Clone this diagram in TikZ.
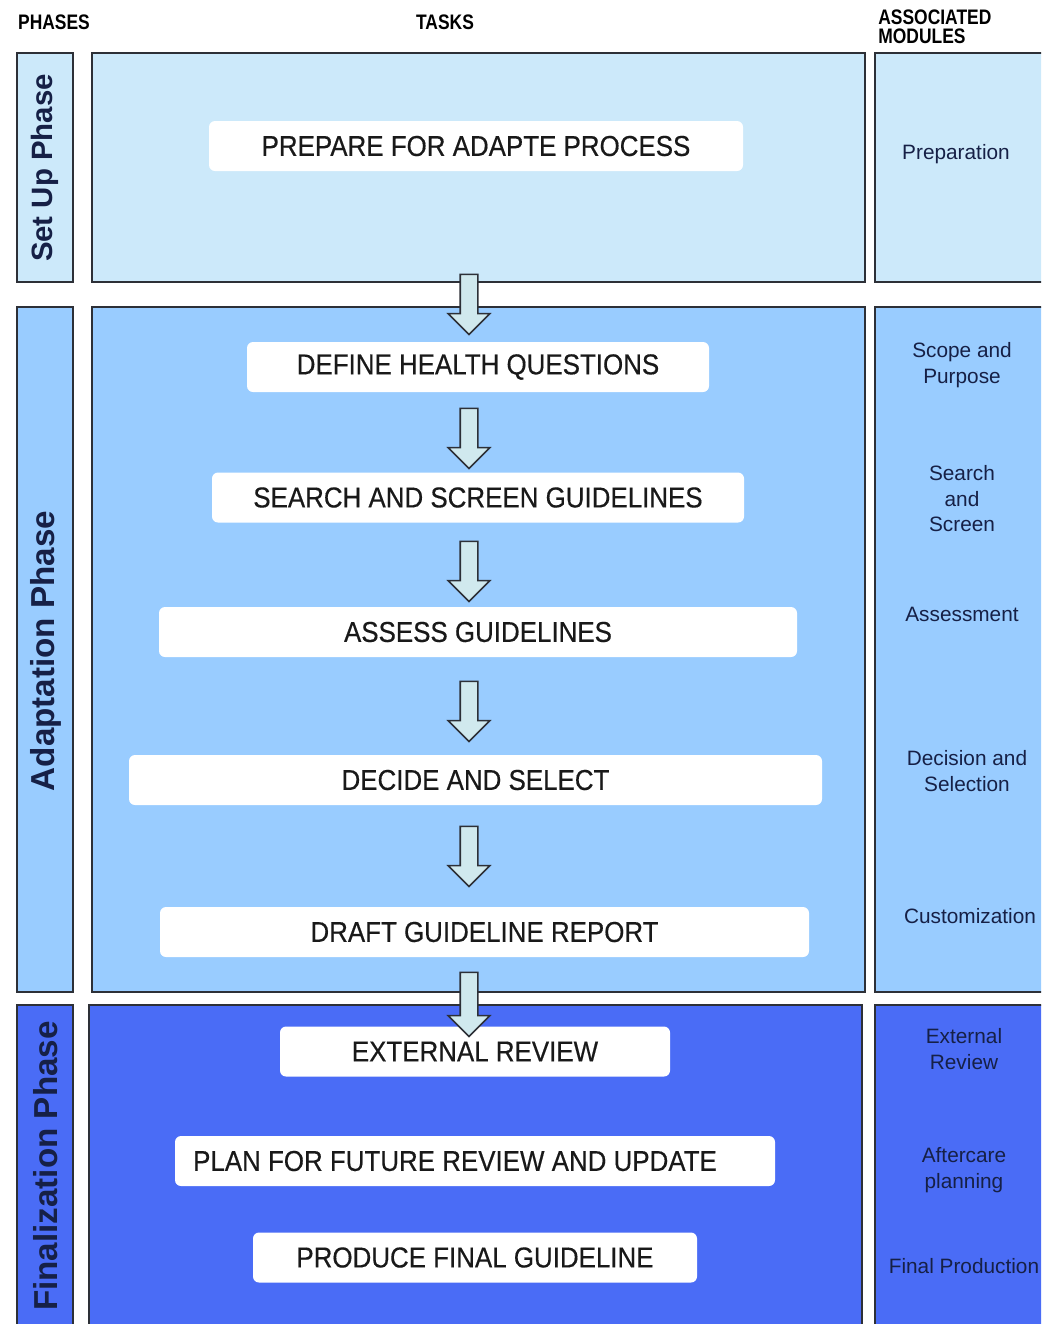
\documentclass[tikz,border=0pt]{standalone}
\usepackage{fontspec}
\setmainfont{Liberation Sans}
\newfontfamily\taskfont[FakeStretch=0.9, FakeBold=0.4]{Liberation Sans}
\newfontfamily\headfont[FakeStretch=0.83]{Liberation Sans}
\usetikzlibrary{shapes,arrows}
\definecolor{setupblue}{RGB}{204,233,250}
\definecolor{adaptblue}{RGB}{153,204,255}
\definecolor{finalblue}{RGB}{74,108,246}
\definecolor{arrowfill}{RGB}{208,233,238}
\definecolor{edgegray}{RGB}{45,48,55}
\definecolor{labelnavy}{RGB}{22,32,70}

\begin{document}
\begin{tikzpicture}[x=0.5pt, y=-0.5pt]
\tikzstyle{band}=[draw=edgegray, line width=1pt]
\tikzstyle{taskbox}=[rectangle, rounded corners=3pt, fill=white, minimum height=25pt, inner sep=0pt, font=\taskfont\fontsize{14.4}{16}\selectfont, text=black!90]
\tikzstyle{phaselabel}=[rotate=90, font=\bfseries\fontsize{16.6}{18}\selectfont, text=labelnavy]
\tikzstyle{module}=[align=center, font=\fontsize{10.4}{12.75}\selectfont, text=labelnavy]
\tikzstyle{header}=[font=\headfont\bfseries\fontsize{10.5}{9.5}\selectfont, align=left, inner sep=0pt]
\tikzstyle{downarrow}=[single arrow, draw=edgegray, fill=arrowfill, line width=0.8pt, rotate=-90, minimum height=30pt, inner sep=4pt, single arrow head extend=6pt]

\useasboundingbox (0,0) rectangle (1041,1324);
\clip (0,0) rectangle (1041,1324);
\fill[white] (0,0) rectangle (1041,1324);

\node[header] (H0) at (54,22) {PHASES};
\node[header] (H1) at (445,22) {TASKS};
\node[header, anchor=west] (H2) at (878,27) {ASSOCIATED\\MODULES};

\draw[band, fill=setupblue] (17,53) rectangle (73,282);
\draw[band, fill=setupblue] (92,53) rectangle (865,282);
\draw[band, fill=setupblue] (875,53) rectangle (1060,282);
\draw[band, fill=adaptblue] (17,307) rectangle (73,992);
\draw[band, fill=adaptblue] (92,307) rectangle (865,992);
\draw[band, fill=adaptblue] (875,307) rectangle (1060,992);
\draw[band, fill=finalblue] (17,1005) rectangle (73,1340);
\draw[band, fill=finalblue] (89,1005) rectangle (862,1340);
\draw[band, fill=finalblue] (875,1005) rectangle (1060,1340);

\node[phaselabel, font=\bfseries\fontsize{14.7}{18}\selectfont] (P0) at (45,168) {Set Up Phase};
\node[phaselabel] (P1) at (46,651) {Adaptation Phase};
\node[phaselabel] (P2) at (46,1166) {Finalization Phase};

\node[taskbox, minimum width=267pt] (T0) at (476,146) {PREPARE FOR ADAPTE PROCESS};
\node[taskbox, minimum width=231pt] (T1) at (478,367) {DEFINE HEALTH QUESTIONS};
\node[taskbox, minimum width=266pt] (T2) at (478,497.5) {SEARCH AND SCREEN GUIDELINES};
\node[taskbox, minimum width=319pt] (T3) at (478,632) {ASSESS GUIDELINES};
\node[taskbox, minimum width=346.5pt] (T4) at (475.5,780) {DECIDE AND SELECT};
\node[taskbox, minimum width=324.5pt] (T5) at (484.5,932) {DRAFT GUIDELINE REPORT};
\node[taskbox, minimum width=195pt] (T6) at (475,1051.5) {EXTERNAL REVIEW};
\node[taskbox, minimum width=300pt] (T7) at (475,1161) {PLAN FOR FUTURE REVIEW AND UPDATE\hspace*{20pt}};
\node[taskbox, minimum width=222pt] (T8) at (475,1257.5) {PRODUCE FINAL GUIDELINE};

\node[module] (M0) at (956,154) {Preparation};
\node[module] (M1) at (962,365) {Scope and\\Purpose};
\node[module] (M2) at (962,499) {Search\\and\\Screen};
\node[module] (M3) at (962,614) {Assessment};
\node[module] (M4) at (967,771) {Decision and\\Selection};
\node[module] (M5) at (970,916) {Customization};
\node[module] (M6) at (964,1049) {External\\Review};
\node[module] (M7) at (964,1170) {Aftercare\\planning};
\node[module] (M8) at (964,1266) {Final Production};

\node[downarrow] (A1) at (469,300) {};
\node[downarrow] (A2) at (469,434) {};
\node[downarrow] (A3) at (469,567) {};
\node[downarrow] (A4) at (469,707) {};
\node[downarrow] (A5) at (469,852) {};
\node[downarrow, minimum height=32pt] (A6) at (469,1000) {};
\end{tikzpicture}
\end{document}
